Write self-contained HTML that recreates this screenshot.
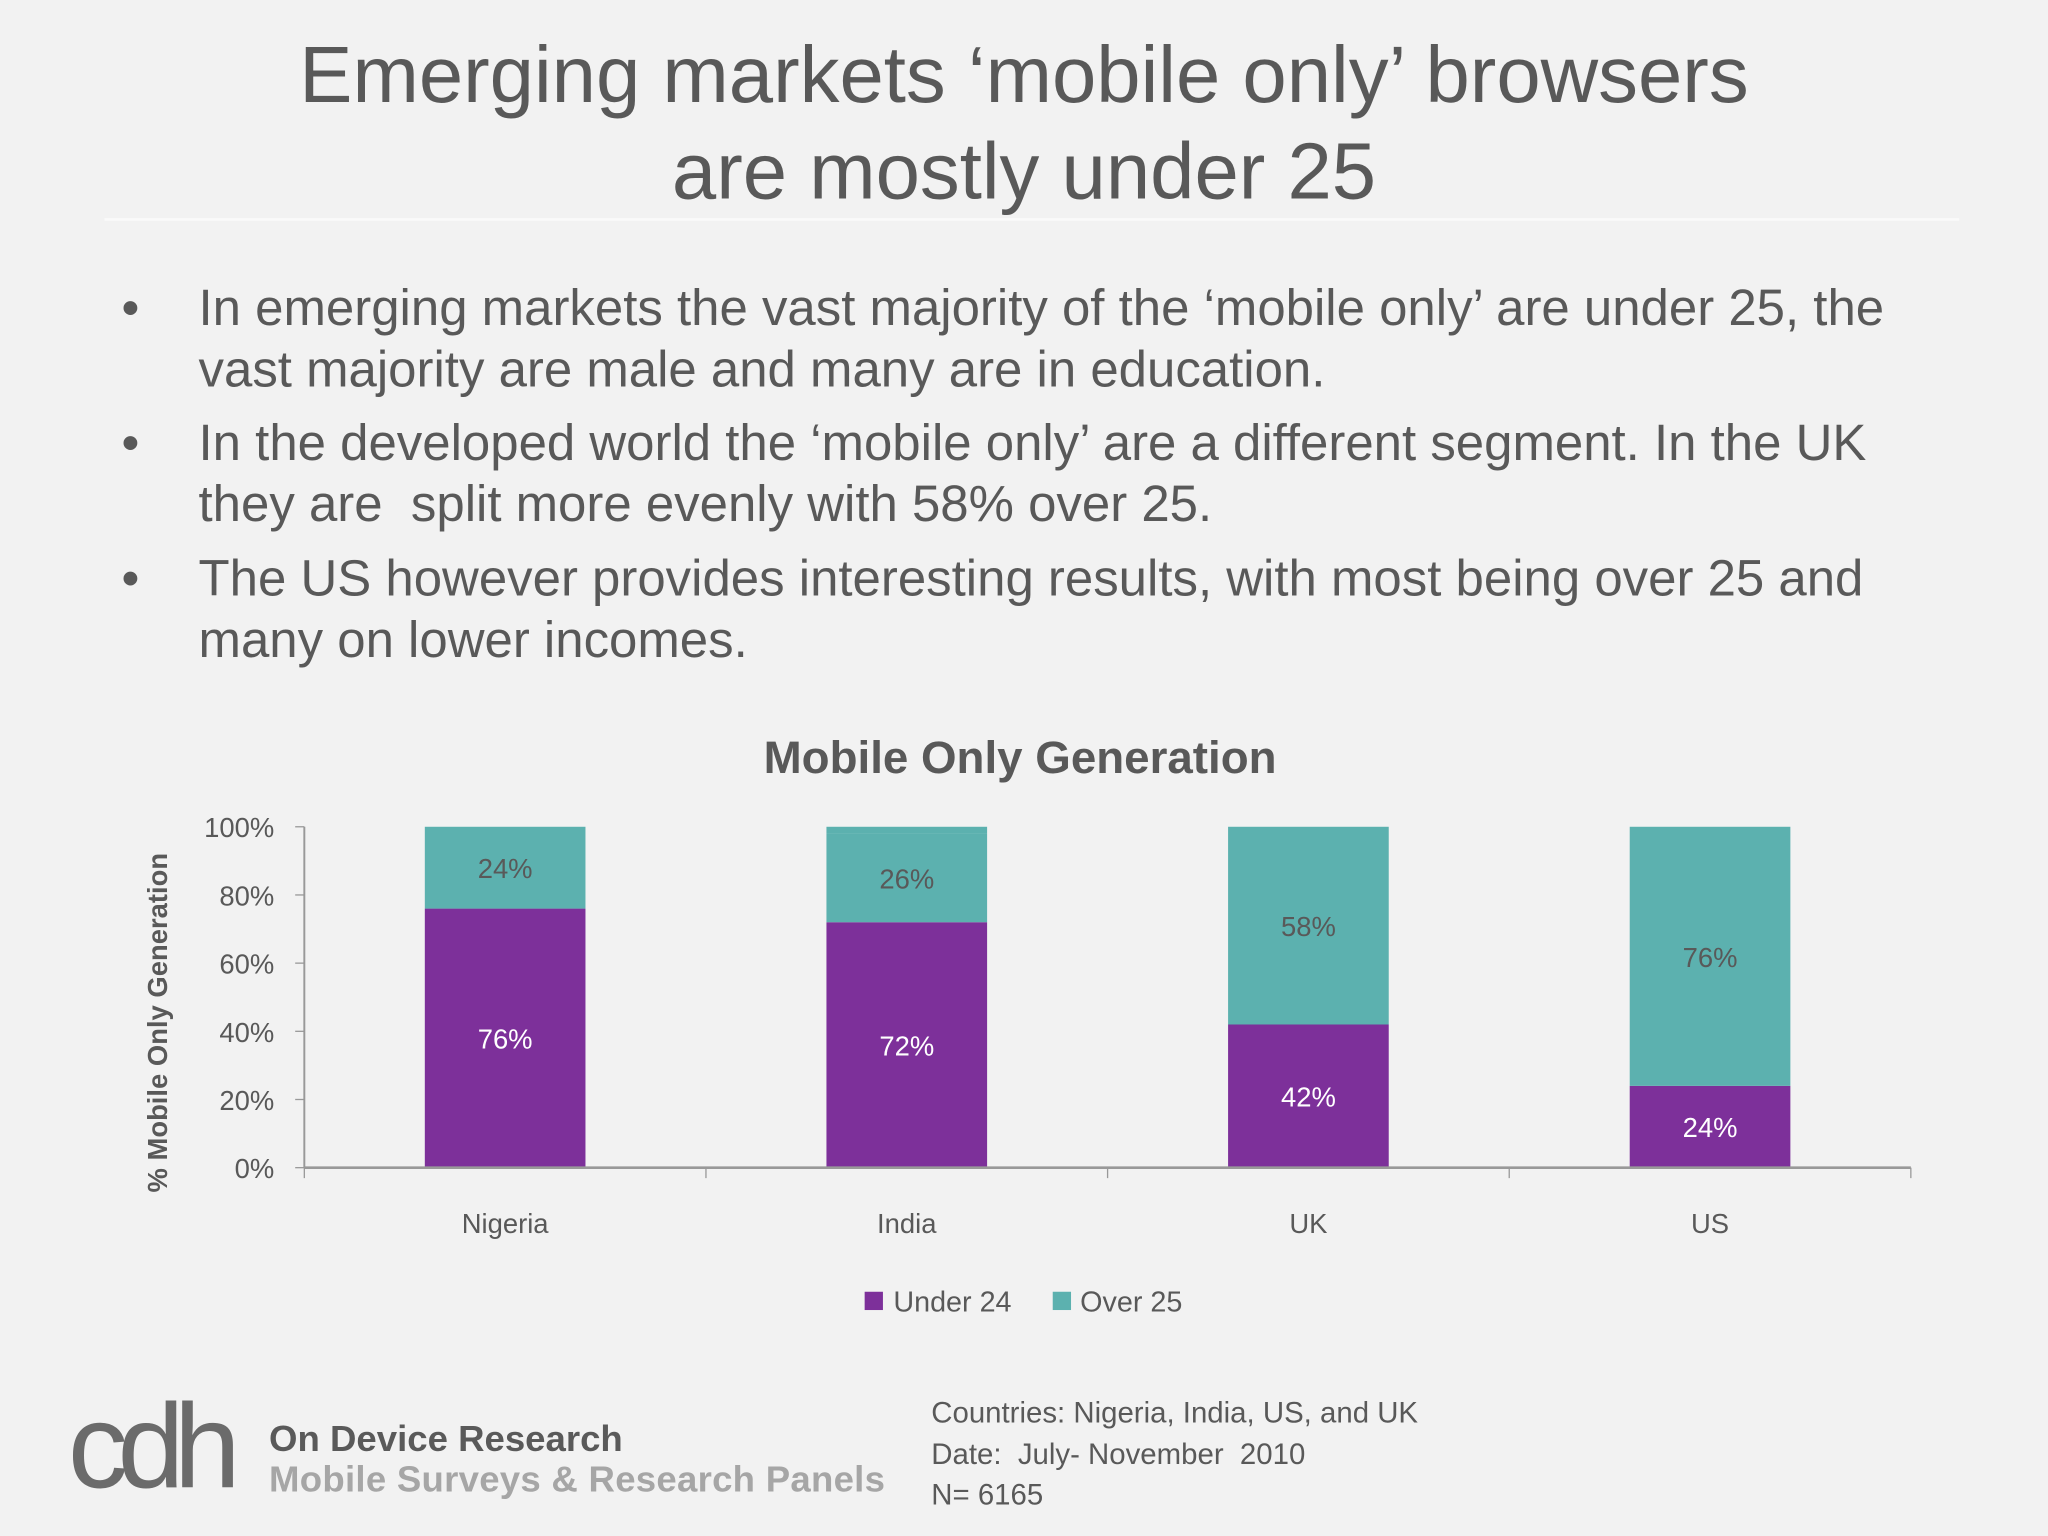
<!DOCTYPE html>
<html><head><meta charset="utf-8"><style>
html,body{margin:0;padding:0;background:#f2f2f2;width:2048px;height:1536px;overflow:hidden}
#wrap{position:absolute;left:0;top:0;width:1568px;height:1176px;transform:scale(1.306122);transform-origin:0 0;font-family:"Liberation Sans",sans-serif;color:#595959}
.t{position:absolute;white-space:nowrap}
</style></head><body>
<div id="wrap">
<div class="t" style="left:0;width:1568px;text-align:center;top:20px;font-size:61px;line-height:74px">Emerging markets ‘mobile only’ browsers<br>are mostly under 25</div>
<div style="position:absolute;left:80px;top:167px;width:1420px;height:2px;background:#fafafa"></div>
<div style="position:absolute;left:0;top:213px;font-size:39px;line-height:47px">
<div class="t" style="left:93px;top:0">•</div><div class="t" style="left:152px;top:0">In emerging markets the vast majority of the ‘mobile only’ are under 25, the<br>vast majority are male and many are in education.</div>
<div class="t" style="left:93px;top:103px">•</div><div class="t" style="left:152px;top:103px">In the developed world the ‘mobile only’ are a different segment. In the UK<br>they are&nbsp; split more evenly with 58% over 25.</div>
<div class="t" style="left:93px;top:207px">•</div><div class="t" style="left:152px;top:207px">The US however provides interesting results, with most being over 25 and<br>many on lower incomes.</div>
</div>
<svg id="chart" style="position:absolute;left:0;top:0" width="1568" height="1176" font-family="Liberation Sans, sans-serif"></svg>
<div class="t" style="left:52px;top:1058px;font-size:92px;color:#6b6b6b;letter-spacing:-8px;line-height:100px">cdh</div>
<div class="t" style="left:206px;top:1086px;font-size:28px;font-weight:bold;color:#5a5a5a">On Device Research</div>
<div class="t" style="left:206px;top:1117px;font-size:28px;font-weight:bold;color:#a6a6a6;letter-spacing:0.2px">Mobile Surveys &amp; Research Panels</div>
<div class="t" style="left:713px;top:1066px;font-size:22.5px;line-height:31.5px;color:#595959">Countries: Nigeria, India, US, and UK<br>Date:&nbsp; July- November&nbsp; 2010<br>N= 6165</div>
</div>
<script>
const categories=["Nigeria","India","UK","US"];
const under24=[76,72,42,24];
const over25=[24,26,58,76];
const ticks=[0,20,40,60,80,100];
const svg=document.getElementById('chart');
const NS='http://www.w3.org/2000/svg';
const x0=233,x1=1463,yb=894,yt=633;
const band=(x1-x0)/categories.length,bw=123;
const y=v=>yb-(yb-yt)*v/100;
const cx=i=>x0+band*(i+0.5);
function mk(t,a,txt){const e=document.createElementNS(NS,t);for(const k in a)e.setAttribute(k,a[k]);if(txt!==undefined)e.textContent=txt;svg.appendChild(e);return e;}
let e=mk('text',{x:781,y:592,'text-anchor':'middle','font-size':35,'font-weight':'bold',fill:'#595959'},'Mobile Only Generation');


e=mk('text',{x:0,y:0,transform:'translate(128,783) rotate(-90)','text-anchor':'middle','font-size':21,'font-weight':'bold',fill:'#595959'},'% Mobile Only Generation');


ticks.forEach(t=>{
 e=mk('text',{x:210,y:y(t)+8,'text-anchor':'end','font-size':21,fill:'#595959'},t+'%');
 
 
 e=mk('line',{x1:226,x2:233,y1:y(t),y2:y(t),stroke:'#999'});
 
 
});
e=mk('line',{x1:233,x2:233,y1:yt,y2:yb,stroke:'#999','stroke-width':1.5});


categories.forEach((c,i)=>{
 const l=cx(i)-bw/2;
 const u=under24[i],o=over25[i];
 e=mk('rect',{x:l,y:y(u),width:bw,height:yb-y(u),fill:'#7d309a'});
 
 
 e=mk('rect',{x:l,y:y(u+o),width:bw,height:y(u)-y(u+o),fill:'#5cb1af'});
 
 
 e=mk('rect',{x:l,y:yt,width:bw,height:y(u+o)-yt,fill:'#5cb1af'});
 
 
 e=mk('text',{x:cx(i),y:y(u/2)+8,'text-anchor':'middle','font-size':21,fill:'#fff'},u+'%');
 
 
 e=mk('text',{x:cx(i),y:y(u+o/2)+8,'text-anchor':'middle','font-size':21,fill:'#595959'},o+'%');
 
 
 e=mk('text',{x:cx(i),y:944,'text-anchor':'middle','font-size':21,fill:'#595959'},c);
 
 
});
for(let i=0;i<=categories.length;i++){
 e=mk('line',{x1:x0+band*i,x2:x0+band*i,y1:yb,y2:yb+8,stroke:'#999'});
 
 
}
e=mk('line',{x1:x0,x2:x1,y1:yb,y2:yb,stroke:'#999','stroke-width':2});


e=mk('rect',{x:662,y:989,width:14,height:14,fill:'#7d309a'});


e=mk('text',{x:684,y:1004,'font-size':22,fill:'#595959'},'Under 24');


e=mk('rect',{x:806,y:989,width:14,height:14,fill:'#5cb1af'});


e=mk('text',{x:827,y:1004,'font-size':22,fill:'#595959'},'Over 25');


</script>
</body></html>
